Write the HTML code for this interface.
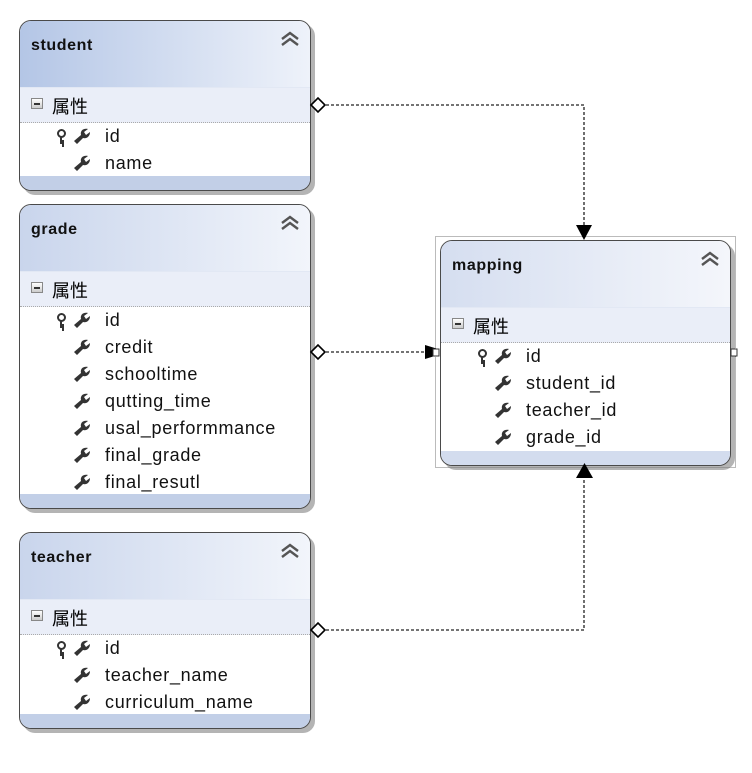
<!DOCTYPE html>
<html><head><meta charset="utf-8"><style>
body{margin:0;width:752px;height:773px;background:#fff;position:relative;overflow:hidden;font-family:"Liberation Sans","Noto Sans CJK SC",sans-serif}
.box{position:absolute;border:1.5px solid #4a4a4a;border-radius:12px;background:#fff;overflow:hidden;box-shadow:4px 4px 0 #b4b4b4;box-sizing:border-box}
.hd{height:66px;background:linear-gradient(90deg,#c9d5ec,#f2f5fb);position:relative;border-bottom:1px solid #e2e8f4}
.hd.sel{background:linear-gradient(90deg,#b4c6e6,#eef2fa)}
.hd b{position:absolute;left:11px;top:16px;font-size:16px;letter-spacing:0.6px;color:#111}
.hd svg{position:absolute;right:10px;top:10px}
.pr{height:34px;background:#eaeef8;border-bottom:1px dotted #aaa;position:relative;font-size:18px;color:#000}
.pr span.m{position:absolute;left:11px;top:10px;width:10px;height:9px;border:1px solid #888;background:linear-gradient(#fff,#ccc)}
.pr span.m:after{content:"";position:absolute;left:2px;top:4px;width:6px;height:1.5px;background:#333}
.pr span.t{position:absolute;left:32px;top:5px}
.rw{height:27px;position:relative;font-size:18px;letter-spacing:0.7px;color:#111}
.rw .n{position:absolute;left:85px;top:3px}
.rw .k{position:absolute;left:37px;top:6px;width:5px;height:5px;border:2px solid #333;border-radius:50%}
.rw .k:after{content:"";position:absolute;left:1px;top:6px;width:2px;height:7px;background:#333;box-shadow:2px 3px 0 -0px #333}
.rw .w{position:absolute;left:53px;top:5px}
.ft{position:absolute;left:0;right:0;bottom:0;height:14px;background:#c2cfe7}
</style></head><body>
<svg width="0" height="0" style="position:absolute"><defs>
<symbol id="wr" viewBox="0 0 18 16"><path d="M1 13 L8 7 C7 3 10 0 15 1 L11 4 L13 7 L17 4 C17 9 13 11 10 10 L4 16 Z" fill="#333"/></symbol>
<symbol id="ch" viewBox="0 0 20 16"><path d="M2 8 L10 2 L18 8 M2 14 L10 8 L18 14" fill="none" stroke="#555" stroke-width="2.4"/></symbol>
</defs></svg>

<div class="box" style="left:19px;top:20px;width:292px;height:171px">
<div class="hd sel"><b>student</b><svg width="20" height="16"><use href="#ch"/></svg></div>
<div class="pr"><span class="m"></span><span class="t">属性</span></div>
<div class="rw"><span class="k"></span><svg class="w" width="18" height="16"><use href="#wr"/></svg><span class="n">id</span></div>
<div class="rw"><svg class="w" width="18" height="16"><use href="#wr"/></svg><span class="n">name</span></div>
<div class="ft"></div></div>

<div class="box" style="left:19px;top:204px;width:292px;height:305px">
<div class="hd"><b>grade</b><svg width="20" height="16"><use href="#ch"/></svg></div>
<div class="pr"><span class="m"></span><span class="t">属性</span></div>
<div class="rw"><span class="k"></span><svg class="w" width="18" height="16"><use href="#wr"/></svg><span class="n">id</span></div>
<div class="rw"><svg class="w" width="18" height="16"><use href="#wr"/></svg><span class="n">credit</span></div>
<div class="rw"><svg class="w" width="18" height="16"><use href="#wr"/></svg><span class="n">schooltime</span></div>
<div class="rw"><svg class="w" width="18" height="16"><use href="#wr"/></svg><span class="n">qutting_time</span></div>
<div class="rw"><svg class="w" width="18" height="16"><use href="#wr"/></svg><span class="n">usal_performmance</span></div>
<div class="rw"><svg class="w" width="18" height="16"><use href="#wr"/></svg><span class="n">final_grade</span></div>
<div class="rw"><svg class="w" width="18" height="16"><use href="#wr"/></svg><span class="n">final_resutl</span></div>
<div class="ft"></div></div>

<div class="box" style="left:19px;top:532px;width:292px;height:197px">
<div class="hd"><b>teacher</b><svg width="20" height="16"><use href="#ch"/></svg></div>
<div class="pr"><span class="m"></span><span class="t">属性</span></div>
<div class="rw"><span class="k"></span><svg class="w" width="18" height="16"><use href="#wr"/></svg><span class="n">id</span></div>
<div class="rw"><svg class="w" width="18" height="16"><use href="#wr"/></svg><span class="n">teacher_name</span></div>
<div class="rw"><svg class="w" width="18" height="16"><use href="#wr"/></svg><span class="n">curriculum_name</span></div>
<div class="ft"></div></div>

<div class="box" style="left:440px;top:240px;width:291px;height:226px">
<div class="hd" style="background:linear-gradient(90deg,#d5def0,#f4f6fb)"><b>mapping</b><svg width="20" height="16"><use href="#ch"/></svg></div>
<div class="pr"><span class="m"></span><span class="t">属性</span></div>
<div class="rw"><span class="k"></span><svg class="w" width="18" height="16"><use href="#wr"/></svg><span class="n">id</span></div>
<div class="rw"><svg class="w" width="18" height="16"><use href="#wr"/></svg><span class="n">student_id</span></div>
<div class="rw"><svg class="w" width="18" height="16"><use href="#wr"/></svg><span class="n">teacher_id</span></div>
<div class="rw"><svg class="w" width="18" height="16"><use href="#wr"/></svg><span class="n">grade_id</span></div>
<div class="ft" style="background:#d3dcee"></div></div>

<svg width="752" height="773" style="position:absolute;left:0;top:0;z-index:5">
<rect x="435.5" y="236.5" width="300" height="231" fill="none" stroke="#777" stroke-dasharray="1,1"/>
<g stroke="#222" stroke-width="1.3" stroke-dasharray="3,2" fill="none">
<path d="M326 105 H584 V225"/>
<path d="M326 352 H426"/>
<path d="M326 630 H584 V478"/>
</g>
<g fill="#fff" stroke="#000" stroke-width="1.6">
<path d="M311 105 L318 98 L325 105 L318 112 Z"/>
<path d="M311 352 L318 345 L325 352 L318 359 Z"/>
<path d="M311 630 L318 623 L325 630 L318 637 Z"/>
</g>
<g fill="#000">
<path d="M576 225 H592 L584 240 Z"/>
<path d="M576 478 H593 L584.5 463 Z"/>
<path d="M425 345 L438 349 V355 L425 359 Z"/>
</g>
<rect x="433" y="349" width="6" height="7" fill="#fff" stroke="#333"/>
<rect x="731" y="349" width="6" height="7" fill="#fff" stroke="#333"/>
</svg>
</body></html>
